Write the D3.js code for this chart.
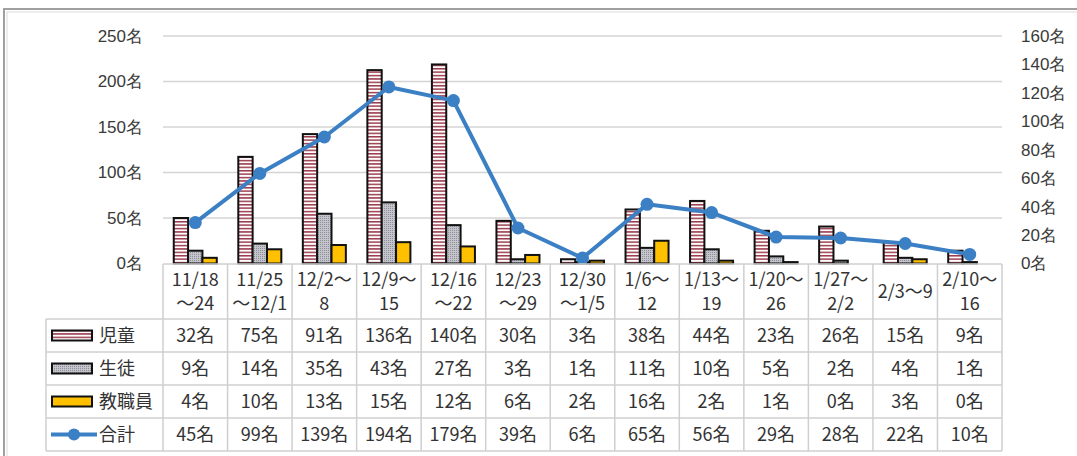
<!DOCTYPE html>
<html>
<head>
<meta charset="utf-8">
<script src="https://cdn.jsdelivr.net/npm/d3@7"></script>
<style>
  html, body { margin: 0; padding: 0; background: #fff; }
  svg { display: block; font-family: "Noto Sans CJK JP", "Noto Sans", sans-serif; }
</style>
</head>
<body>
<div id="chart"></div>
<script>
// data
var categories = [
  ['11/18', '～24'], ['11/25', '～12/1'], ['12/2～', '8'], ['12/9～', '15'],
  ['12/16', '～22'], ['12/23', '～29'], ['12/30', '～1/5'], ['1/6～', '12'],
  ['1/13～', '19'], ['1/20～', '26'], ['1/27～', '2/2'], ['2/3～9'], ['2/10～', '16']
];
var seriesNames = ['児童', '生徒', '教職員'];
var jido    = [32, 75, 91, 136, 140, 30, 3, 38, 44, 23, 26, 15, 9];
var seito   = [9, 14, 35, 43, 27, 3, 1, 11, 10, 5, 2, 4, 1];
var kyoshoku = [4, 10, 13, 15, 12, 6, 2, 16, 2, 1, 0, 3, 0];
var total   = [45, 99, 139, 194, 179, 39, 6, 65, 56, 29, 28, 22, 10];
var leftTicks  = [0, 50, 100, 150, 200, 250];
var rightTicks = [0, 20, 40, 60, 80, 100, 120, 140, 160];

var W = 1077, H = 456;
var plot = { left: 163, right: 1002, top: 36, bottom: 263.5 };
var table = { legendLeft: 46, headTop: 264, headBottom: 319, rowH: 33 };

var svg = d3.select('#chart').append('svg')
    .attr('width', W)
    .attr('height', H);

var defs = svg.append('defs');

// horizontal stripes for 児童
var stripes = defs.append('pattern')
    .attr('id', 'stripes')
    .attr('patternUnits', 'userSpaceOnUse')
    .attr('width', 4).attr('height', 3.4);
stripes.append('rect').attr('width', 4).attr('height', 3.4).attr('fill', '#fff');
stripes.append('rect').attr('y', 0).attr('width', 4).attr('height', 1.5).attr('fill', '#9a3a4c');

// fine dots for 生徒
var dots = defs.append('pattern')
    .attr('id', 'dots')
    .attr('patternUnits', 'userSpaceOnUse')
    .attr('width', 2).attr('height', 2);
dots.append('rect').attr('width', 2).attr('height', 2).attr('fill', '#c4c4cc');
dots.append('rect').attr('width', 1).attr('height', 1).attr('fill', '#8f8f98');

var fills = ['url(#stripes)', 'url(#dots)', '#ffc000'];

// outer frame
svg.append('rect')
    .attr('x', 4).attr('y', 9)
    .attr('width', W + 10).attr('height', H + 10)
    .attr('fill', 'none')
    .attr('stroke', '#a0a0a0')
    .attr('stroke-width', 2);
svg.append('rect')
    .attr('x', 7).attr('y', 12)
    .attr('width', W + 10).attr('height', H + 10)
    .attr('fill', 'none')
    .attr('stroke', '#dcdcdc')
    .attr('stroke-width', 1);

// scales
var x = d3.scaleBand()
    .domain(d3.range(categories.length))
    .range([plot.left, plot.right]);

var xSub = d3.scaleBand()
    .domain(seriesNames)
    .range([0, x.bandwidth()])
    .paddingInner(0)
    .paddingOuter(0.75);

var yLeft = d3.scaleLinear().domain([0, 250]).range([plot.bottom, plot.top]);
var yRight = d3.scaleLinear().domain([0, 160]).range([plot.bottom, plot.top]);

// gridlines
svg.append('g').selectAll('line')
    .data(leftTicks.slice(1))
    .enter().append('line')
    .attr('x1', plot.left).attr('x2', plot.right)
    .attr('y1', function (d) { return yLeft(d); })
    .attr('y2', function (d) { return yLeft(d); })
    .attr('stroke', '#d4d4d4')
    .attr('stroke-width', 1.5);

// left axis
var leftAxis = svg.append('g')
    .attr('transform', 'translate(' + 143 + ',0)')
    .call(d3.axisLeft(yLeft).tickValues(leftTicks).tickSize(0).tickPadding(0)
      .tickFormat(function (d) { return d + '名'; }));
leftAxis.select('.domain').remove();
leftAxis.selectAll('text')
    .attr('fill', '#3a3a3a')
    .style('font-size', '17px');

// right axis
var rightAxis = svg.append('g')
    .attr('transform', 'translate(' + 1021 + ',0)')
    .call(d3.axisRight(yRight).tickValues(rightTicks).tickSize(0).tickPadding(0)
      .tickFormat(function (d) { return d + '名'; }));
rightAxis.select('.domain').remove();
rightAxis.selectAll('text')
    .attr('fill', '#3a3a3a')
    .style('font-size', '17px');

// bars (on the right-hand scale)
var seriesData = [jido, seito, kyoshoku];
seriesData.forEach(function (values, s) {
  svg.append('g').selectAll('rect')
      .data(values)
      .enter().append('rect')
      .attr('x', function (d, i) { return x(i) + xSub(seriesNames[s]); })
      .attr('width', xSub.bandwidth())
      .attr('y', function (d) { return yRight(d); })
      .attr('height', function (d) { return yRight(0) - yRight(d); })
      .attr('fill', fills[s])
      .attr('stroke', '#111')
      .attr('stroke-width', 2);
});

// total line (on the left-hand scale)
var line = d3.line()
    .x(function (d, i) { return x(i) + x.bandwidth() / 2; })
    .y(function (d) { return yLeft(d); });

svg.append('path')
    .datum(total)
    .attr('d', line)
    .attr('fill', 'none')
    .attr('stroke', '#3b7fc4')
    .attr('stroke-width', 4)
    .attr('stroke-linejoin', 'round');

svg.append('g').selectAll('circle')
    .data(total)
    .enter().append('circle')
    .attr('cx', function (d, i) { return x(i) + x.bandwidth() / 2; })
    .attr('cy', function (d) { return yLeft(d); })
    .attr('r', 6.5)
    .attr('fill', '#3b7fc4');

// data table
var grid = svg.append('g')
    .attr('stroke', '#cfcfcf')
    .attr('stroke-width', 1.5);

var tableBottom = table.headBottom + table.rowH * 4;

// vertical lines of the category columns
d3.range(categories.length + 1).forEach(function (i) {
  var xx = i < categories.length ? x(i) : plot.right;
  grid.append('line')
      .attr('x1', xx).attr('x2', xx)
      .attr('y1', table.headTop).attr('y2', tableBottom);
});
grid.append('line')
    .attr('x1', table.legendLeft).attr('x2', table.legendLeft)
    .attr('y1', table.headBottom).attr('y2', tableBottom);
grid.append('line')
    .attr('x1', plot.left).attr('x2', plot.right)
    .attr('y1', table.headTop).attr('y2', table.headTop);
d3.range(5).forEach(function (r) {
  var yy = table.headBottom + r * table.rowH;
  grid.append('line')
      .attr('x1', table.legendLeft).attr('x2', plot.right)
      .attr('y1', yy).attr('y2', yy);
});

// header labels
var head = svg.append('g')
    .attr('fill', '#333')
    .style('font-size', '18px')
    .attr('text-anchor', 'middle');
categories.forEach(function (c, i) {
  var cx = x(i) + x.bandwidth() / 2;
  if (c.length === 1) {
    head.append('text').attr('x', cx).attr('y', 298).text(c[0]);
  } else {
    head.append('text').attr('x', cx).attr('y', 286).text(c[0]);
    head.append('text').attr('x', cx).attr('y', 310).text(c[1]);
  }
});

// value rows
var rows = [jido, seito, kyoshoku, total];
var rowNames = seriesNames.concat(['合計']);
var body = svg.append('g')
    .attr('fill', '#333')
    .style('font-size', '18px');

rows.forEach(function (values, r) {
  var cy = table.headBottom + r * table.rowH + table.rowH / 2;
  body.selectAll(null)
      .data(values)
      .enter().append('text')
      .attr('x', function (d, i) { return x(i) + x.bandwidth() / 2; })
      .attr('y', cy + 6.5)
      .attr('text-anchor', 'middle')
      .text(function (d) { return d + '名'; });

  // legend key
  if (r < 3) {
    body.append('rect')
        .attr('x', 52).attr('y', cy - 5)
        .attr('width', 40).attr('height', 10)
        .attr('fill', fills[r])
        .attr('stroke', '#111')
        .attr('stroke-width', 2);
  } else {
    body.append('line')
        .attr('x1', 51).attr('x2', 97)
        .attr('y1', cy).attr('y2', cy)
        .attr('stroke', '#3b7fc4')
        .attr('stroke-width', 4);
    body.append('circle')
        .attr('cx', 74).attr('cy', cy)
        .attr('r', 6)
        .attr('fill', '#3b7fc4');
  }
  body.append('text')
      .attr('x', 99)
      .attr('y', cy + 6.5)
      .text(rowNames[r]);
});
</script>
</body>
</html>
